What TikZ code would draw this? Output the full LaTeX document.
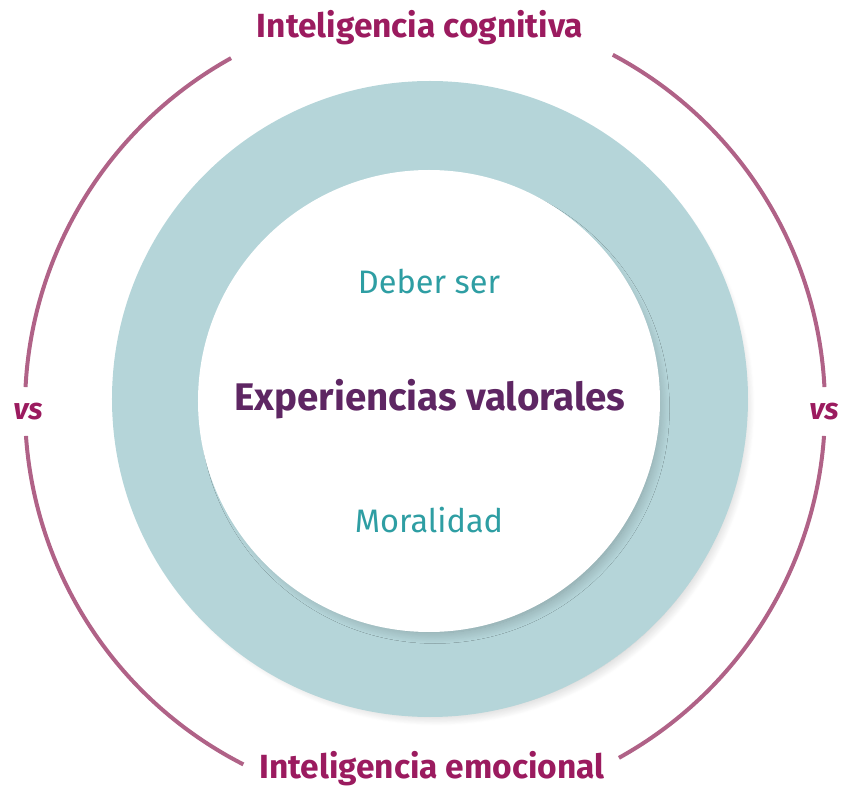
\documentclass[tikz,border=0pt]{standalone}
\usepackage{fontspec}
\setmainfont{Fira Sans}
\usepackage{tikz}
\usetikzlibrary{shadows.blur}

\definecolor{ringteal}{HTML}{B5D5D9}
\definecolor{arcmauve}{HTML}{B06287}
\definecolor{labmagenta}{HTML}{9B1B5F}
\definecolor{corepurple}{HTML}{5E2663}
\definecolor{subteal}{HTML}{2E9EA3}

\begin{document}
\begin{tikzpicture}[x=1pt,y=1pt]
\tikzstyle{arcline}=[draw=arcmauve,line width=4pt]
\tikzstyle{outlabel}=[text=labmagenta,font=\fontsize{33.5}{33.5}\selectfont\bfseries,inner sep=0pt]
\tikzstyle{vslabel}=[text=labmagenta,font=\fontsize{30}{30}\selectfont\bfseries\itshape,inner sep=0pt]
\tikzstyle{sublabel}=[text=subteal,font=\fontsize{32.5}{32.5}\selectfont,inner sep=0pt]
\tikzstyle{softshadow}=[blur shadow={shadow xshift=6pt,shadow yshift=-8pt,shadow scale=0.97,
      shadow opacity=25,shadow blur radius=11pt,shadow blur steps=14}]
\useasboundingbox (-425,-379) rectangle (419,408);
\coordinate (o) at (0,0);
% rings
\node[circle,fill=ringteal,minimum size=636pt,inner sep=0pt,softshadow] (ring) at (5,9) {};
\node[circle,fill=white,minimum size=462pt,inner sep=0pt,softshadow] (core) at (4,7) {};
% outer arcs
\draw[arcline] ([shift={(3:400)}]o) arc (3:62:400);
\draw[arcline] ([shift={(119:400)}]o) arc (119:177:400);
\draw[arcline] ([shift={(184:400)}]o) arc (184:243:400);
\draw[arcline] ([shift={(299:400)}]o) arc (299:356:400);
% labels
\node[outlabel] (cog) at (-5,380) {Inteligencia cognitiva};
\node[outlabel] (emo) at (7,-361) {Inteligencia emocional};
\node[vslabel] (vsl) at (-397,-4) {vs};
\node[vslabel] (vsr) at (399,-4) {vs};
\node[sublabel] (deber) at (4,126) {Deber ser};
\node[text=corepurple,font=\fontsize{38.5}{38.5}\selectfont\bfseries,inner sep=0pt] (exp) at (5,9) {Experiencias valorales};
\node[sublabel] (moral) at (4,-112) {Moralidad};
\end{tikzpicture}
\end{document}
